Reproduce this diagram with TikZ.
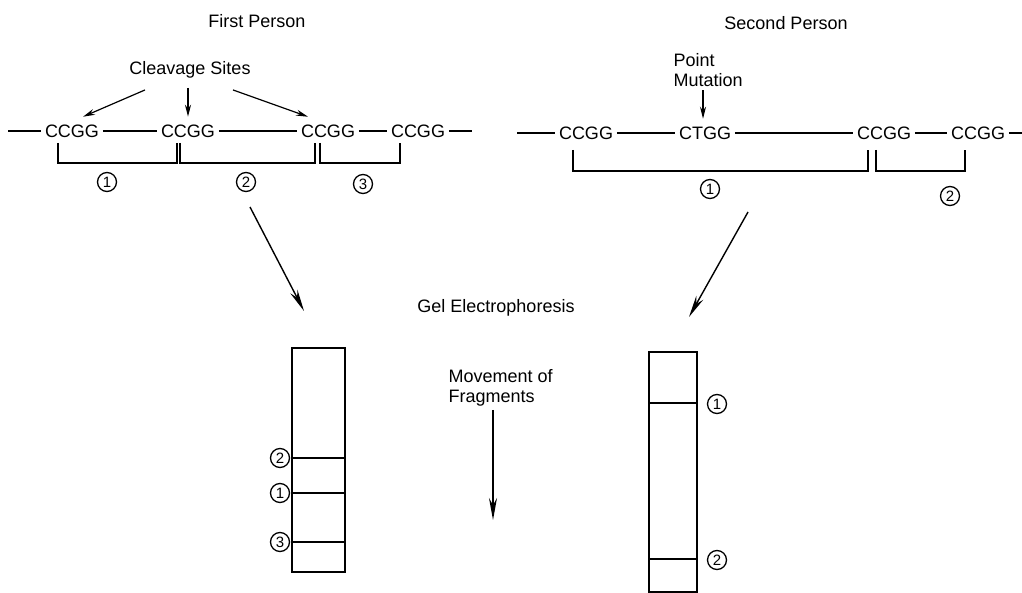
\documentclass[tikz,border=0pt]{standalone}
\usepackage{fontspec}
\setmainfont{Liberation Sans}
\usetikzlibrary{arrows.meta}

\tikzset{
  site/.style={inner sep=1.5pt},
  fragnum/.style={circle,draw,line width=0.65pt,inner sep=0pt,minimum size=9.5pt,font=\fontsize{7.5}{7.5}\selectfont},
  sitearrow/.style={-{Stealth[length=6pt,width=3pt]},line width=0.6pt},
  bigarrow/.style={-{Stealth[length=11pt,width=4pt]},line width=0.7pt},
}

\begin{document}
\begin{tikzpicture}[x=0.5pt,y=-0.5pt,line width=0.9pt,font=\fontsize{9}{10}\selectfont]
  \useasboundingbox (0,0) rectangle (1022,593);
  % titles
  \node (first) at (257,21) {First Person};
  \node (second) at (786,23) {Second Person};

  % first strand
  \node (cs) at (190,70) {Cleavage Sites};
  \node[site] (a1) at (72,131) {CCGG};
  \node[site] (a2) at (188,131) {CCGG};
  \node[site] (a3) at (328,131) {CCGG};
  \node[site] (a4) at (418,131) {CCGG};
  \coordinate (l1) at (8,131);
  \coordinate (r1) at (472,131);
  \draw (l1) -- (a1) -- (a2) -- (a3) -- (a4) -- (r1);
  \draw[sitearrow] ([xshift=-22.5pt,yshift=-2pt]cs.south) -- ([xshift=5.5pt,yshift=2pt]a1.north);
  \draw[sitearrow] ([yshift=-1pt]a2.north |- cs.south) -- ([yshift=2pt]a2.north);
  \draw[sitearrow] ([xshift=21.5pt,yshift=-2pt]cs.south) -- ([xshift=-10pt,yshift=2pt]a3.north);
  % fragments
  \draw[line width=0.7pt] (58,143) |- (177,163) -- (177,143);
  \draw[line width=0.7pt] (180,143) |- (315,163) -- (315,143);
  \draw[line width=0.7pt] (320,143) |- (400,163) -- (400,143);
  \node[fragnum] (n1) at (107,182) {1};
  \node[fragnum] (n2) at (246,182) {2};
  \node[fragnum] (n3) at (363,184) {3};

  % second strand
  \node[anchor=north west,align=left] (pm) at (666,46) {Point\\Mutation};
  \node[site] (b1) at (586,133) {CCGG};
  \node[site] (b2) at (705,133) {CTGG};
  \node[site] (b3) at (884,133) {CCGG};
  \node[site] (b4) at (978,133) {CCGG};
  \coordinate (l2) at (517,133);
  \coordinate (r2) at (1022,133);
  \draw (l2) -- (b1) -- (b2) -- (b3) -- (b4) -- (r2);
  \draw[sitearrow] ([xshift=-1pt,yshift=2pt]b2.north |- pm.south) -- ([xshift=-1pt,yshift=2pt]b2.north);
  % fragments
  \draw[line width=0.7pt] (573,150) |- (868,171) -- (868,150);
  \draw[line width=0.7pt] (876,150) |- (965,171) -- (965,150);
  \node[fragnum] (m1) at (710,189) {1};
  \node[fragnum] (m2) at (950,196) {2};

  % to the gels
  \coordinate (fl) at (250,207);
  \coordinate (gl) at (304,311);
  \coordinate (fr) at (748,212);
  \coordinate (gr) at (689,317);
  \draw[bigarrow] (fl) -- (gl);
  \draw[bigarrow] (fr) -- (gr);
  \node (ge) at (496,308) {Gel Electrophoresis};

  % gel of the first person
  \draw (292,348) rectangle (345,572);
  \foreach \y in {458,493,542}
    \draw (292,\y) -- (345,\y);
  \node[fragnum] (g2) at (280,458) {2};
  \node[fragnum] (g1) at (280,493) {1};
  \node[fragnum] (g3) at (280,542) {3};

  % direction of movement
  \node[anchor=north west,align=left] (mv) at (441,362) {Movement of\\Fragments};
  \coordinate (mvend) at (493,520);
  \draw[bigarrow] ([yshift=2pt]mvend |- mv.south) -- (mvend);

  % gel of the second person
  \draw (649,352) rectangle (697,592);
  \foreach \y in {403,559}
    \draw (649,\y) -- (697,\y);
  \node[fragnum] (h1) at (717,404) {1};
  \node[fragnum] (h2) at (717,560) {2};
\end{tikzpicture}
\end{document}
